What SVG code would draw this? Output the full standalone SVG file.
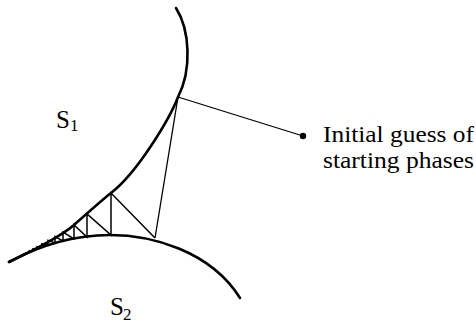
<svg xmlns="http://www.w3.org/2000/svg" width="476" height="328" viewBox="0 0 476 328">
<style>
.surf{fill:none;stroke:#000;stroke-width:2.6;stroke-linecap:round;stroke-linejoin:round}
.thin{fill:none;stroke:#000;stroke-width:1.5;stroke-linejoin:miter}
.ray{fill:none;stroke:#000;stroke-width:1.3}
.t{font-family:"Liberation Serif","Times New Roman",serif;fill:#000}
</style>
<rect width="476" height="328" fill="#fff"/>
<g id="surface-s1">
<path class="surf" d="M176,8 C190,30 192,70 178,97 C170,118 138,172 111,193 C102,200 83,217 74,225 C60,237 30,252 9,262"/>
<text class="t" x="56" y="128" font-size="25">S</text>
<text class="t" x="70" y="131" font-size="17">1</text>
</g>
<g id="surface-s2">
<path class="surf" d="M9,262 Q59.5,235 110,235 C150,235 210,250 240,298"/>
<text class="t" x="110" y="315" font-size="25">S</text>
<text class="t" x="123" y="320" font-size="17">2</text>
</g>
<g id="initial-guess">
<circle cx="303" cy="136" r="3.2" fill="#000"/>
<text class="t" x="323" y="142" font-size="23" textLength="151" lengthAdjust="spacingAndGlyphs">Initial guess of</text>
<text class="t" x="323" y="168" font-size="23" textLength="151" lengthAdjust="spacingAndGlyphs">starting phases</text>
</g>
<g id="connectors">
<line class="ray" x1="178" y1="97" x2="303" y2="136"/>
<line class="ray" x1="178" y1="97" x2="155" y2="238"/>
<polyline class="thin" points="155,238 111,193 111,235 87,214 87,237 74,225 74,239 63,232 63,241 55,236.5 55,243 48,240.4 48,245.2 42,243.8 42,247.3 37,246.6 37,249.1 33,248.8 33,250.7 29,251 29,252.4 26,252.7 26,253.7 23,254.4 23,255.1 20,256.1"/>
</g>
</svg>
